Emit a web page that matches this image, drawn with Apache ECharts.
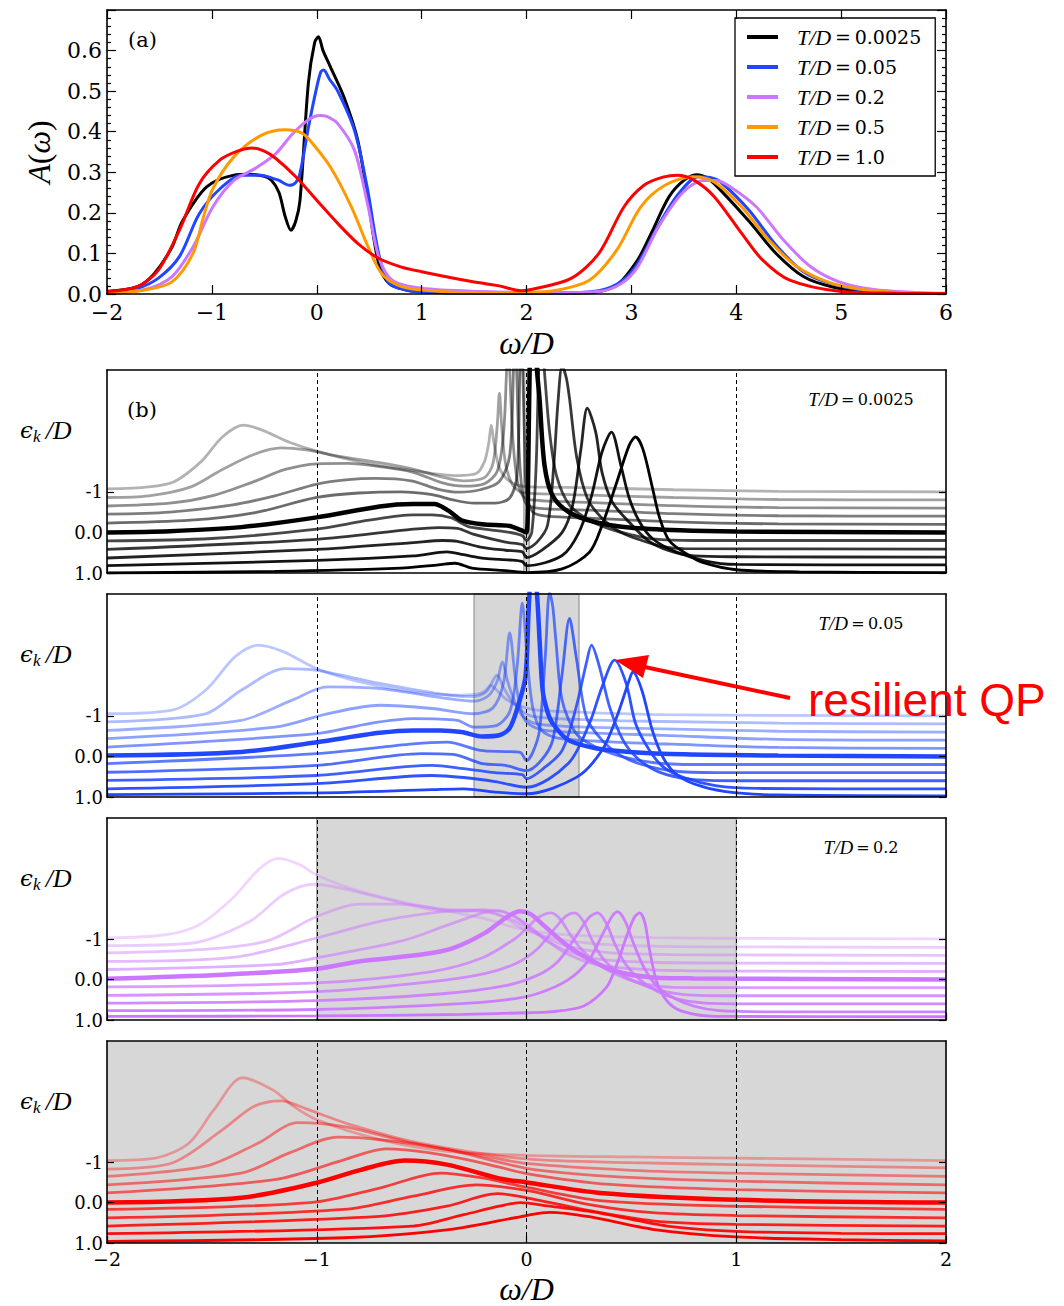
<!DOCTYPE html>
<html><head><meta charset="utf-8">
<script src="https://cdn.jsdelivr.net/npm/echarts@6/dist/echarts.min.js"></script>
<style>html,body{margin:0;padding:0;background:#fff}#c{width:1064px;height:1306px}</style>
</head><body><div id="c"></div>
<script>
// ---------------- DATA ----------------
// panel (a): A(omega) for several temperatures, [omega/D, A]
const TEMPS = ['0.0025', '0.05', '0.2', '0.5', '1.0'];
const A_T0025 = [[-2,0.006],[-1.71,0.018],[-1.55,0.05],[-1.38,0.116],[-1.28,0.18],[-1.05,0.264],[-0.79,0.293],[-0.66,0.295],[-0.5,0.29],[-0.43,0.28],[-0.36,0.25],[-0.3,0.19],[-0.246,0.157],[-0.2,0.18],[-0.16,0.23],[-0.08,0.52],[-0.02,0.62],[0.016,0.634],[0.06,0.6],[0.13,0.56],[0.26,0.485],[0.39,0.38],[0.49,0.23],[0.59,0.075],[0.69,0.026],[0.85,0.01],[1.0,0.006],[1.5,0.003],[2.0,0.002],[2.6,0.003],[2.86,0.022],[3.06,0.084],[3.19,0.15],[3.36,0.24],[3.5,0.28],[3.62,0.294],[3.73,0.285],[3.85,0.256],[4.12,0.18],[4.38,0.1],[4.64,0.043],[4.91,0.018],[5.24,0.006],[5.6,0.002],[6,0.001]];
const A_T005 = [[-2,0.003],[-1.71,0.014],[-1.51,0.039],[-1.31,0.092],[-1.12,0.198],[-0.92,0.26],[-0.72,0.293],[-0.53,0.293],[-0.42,0.285],[-0.36,0.28],[-0.26,0.268],[-0.2,0.275],[-0.16,0.297],[-0.08,0.41],[0,0.51],[0.04,0.548],[0.066,0.552],[0.12,0.53],[0.2,0.5],[0.36,0.403],[0.48,0.264],[0.59,0.1],[0.69,0.026],[0.85,0.01],[1,0.005],[1.5,0.002],[2.3,0.002],[2.69,0.008],[2.9,0.03],[3.06,0.075],[3.26,0.17],[3.45,0.247],[3.64,0.289],[3.75,0.287],[3.85,0.276],[4.12,0.207],[4.38,0.12],[4.64,0.055],[4.91,0.025],[5.2,0.01],[5.6,0.003],[6,0.001]];
const A_T02 = [[-2,0.002],[-1.64,0.011],[-1.38,0.043],[-1.18,0.116],[-0.99,0.215],[-0.79,0.28],[-0.59,0.309],[-0.39,0.346],[-0.23,0.395],[-0.066,0.432],[0.033,0.44],[0.1,0.437],[0.2,0.42],[0.36,0.354],[0.49,0.215],[0.59,0.092],[0.72,0.034],[1,0.014],[1.58,0.006],[2.2,0.003],[2.69,0.006],[2.9,0.025],[3.06,0.067],[3.26,0.166],[3.49,0.25],[3.69,0.28],[3.8,0.28],[3.92,0.268],[4.19,0.215],[4.45,0.133],[4.71,0.067],[4.98,0.03],[5.31,0.011],[5.7,0.004],[6,0.002]];
const A_T05 = [[-2,0.002],[-1.64,0.01],[-1.38,0.03],[-1.18,0.1],[-1.08,0.19],[-0.99,0.26],[-0.79,0.338],[-0.53,0.391],[-0.3,0.405],[-0.15,0.398],[-0.066,0.379],[0.13,0.313],[0.33,0.215],[0.49,0.116],[0.62,0.05],[0.79,0.02],[1,0.01],[1.58,0.003],[2.0,0.004],[2.26,0.008],[2.6,0.034],[2.86,0.108],[3.09,0.215],[3.32,0.268],[3.59,0.289],[3.79,0.276],[4.05,0.215],[4.31,0.133],[4.58,0.067],[4.91,0.026],[5.24,0.01],[5.6,0.003],[6,0.001]];
const A_T1 = [[-2,0.006],[-1.71,0.018],[-1.51,0.059],[-1.31,0.157],[-1.12,0.272],[-0.92,0.331],[-0.75,0.353],[-0.62,0.36],[-0.5,0.352],[-0.39,0.334],[-0.2,0.289],[0,0.231],[0.2,0.174],[0.39,0.125],[0.59,0.088],[0.8,0.067],[1,0.055],[1.41,0.034],[1.74,0.02],[1.95,0.008],[2.1,0.014],[2.43,0.039],[2.69,0.1],[2.93,0.215],[3.12,0.268],[3.3,0.288],[3.44,0.293],[3.6,0.28],[3.79,0.24],[4.05,0.15],[4.25,0.084],[4.51,0.034],[5.0,0.006],[5.5,0.002],[6,0.001]];

// panel (b): waterfall curves for eps_k/D = -1 ... 1 ; each point [omega/D, plotted value]
const EPS = [-1, -0.8, -0.6, -0.4, -0.2, 0, 0.2, 0.4, 0.6, 0.8, 1];
const B_TEMPS = ['0.0025', '0.05', '0.2', '1.0'];
const B_SHADE_HALF = [0.0125, 0.25, 1.0, 2.0];
const B_YTICK_VALUES = [-1, 0, 1];
const B_YTICK_LABELS = ['1.0', '0.0', '-1'];
const B_VLINES = [-1, 0, 1];

const B_T0025 = [
 [[-2,1.07],[-1.8,1.12],[-1.68,1.25],[-1.55,1.75],[-1.45,2.35],[-1.35,2.64],[-1.26,2.52],[-1.13,2.22],[-1.0,2.0],[-0.79,1.73],[-0.54,1.52],[-0.33,1.40],[-0.24,1.45],[-0.2,1.75],[-0.18,2.2],[-0.168,2.64],[-0.155,2.2],[-0.13,1.6],[-0.09,1.3],[-0.04,1.16],[0.02,1.12],[0.3,1.1],[0.7,1.05],[1.2,1.01],[2,1.0]],
 [[-2,0.86],[-1.8,0.9],[-1.6,1.12],[-1.45,1.55],[-1.3,1.92],[-1.17,2.08],[-1.05,2.03],[-0.9,1.88],[-0.7,1.72],[-0.54,1.56],[-0.4,1.36],[-0.3,1.27],[-0.2,1.35],[-0.16,1.7],[-0.14,2.6],[-0.129,3.43],[-0.118,2.6],[-0.1,1.7],[-0.07,1.2],[-0.03,1.0],[0.02,0.96],[0.3,0.92],[0.7,0.86],[1.2,0.81],[2,0.8]],
 [[-2,0.65],[-1.7,0.72],[-1.5,0.9],[-1.3,1.25],[-1.15,1.55],[-1.0,1.69],[-0.85,1.7],[-0.7,1.62],[-0.54,1.48],[-0.4,1.22],[-0.3,1.14],[-0.2,1.2],[-0.14,1.5],[-0.11,2.4],[-0.095,4.0],[-0.088,5],[-0.08,4.0],[-0.065,2.3],[-0.045,1.3],[-0.02,0.92],[0.02,0.8],[0.3,0.74],[0.7,0.66],[1.2,0.61],[2,0.6]],
 [[-2,0.45],[-1.7,0.5],[-1.4,0.68],[-1.2,0.9],[-1.0,1.19],[-0.85,1.3],[-0.72,1.33],[-0.55,1.27],[-0.42,1.06],[-0.32,0.99],[-0.22,1.05],[-0.13,1.25],[-0.08,1.9],[-0.062,4.0],[-0.055,5],[-0.047,4.0],[-0.035,2.0],[-0.02,1.0],[0.0,0.7],[0.05,0.6],[0.3,0.55],[0.7,0.46],[1.2,0.41],[2,0.4]],
 [[-2,0.23],[-1.6,0.3],[-1.3,0.48],[-1.0,0.86],[-0.8,0.97],[-0.6,1.0],[-0.45,0.93],[-0.35,0.8],[-0.25,0.72],[-0.15,0.72],[-0.08,0.85],[-0.045,1.4],[-0.032,4.0],[-0.025,5],[-0.018,4.0],[-0.008,2.0],[0.0,1.0],[0.03,0.5],[0.1,0.4],[0.3,0.35],[0.7,0.26],[1.2,0.21],[2,0.2]],
 [[-2,0],[-1.7,0.03],[-1.36,0.13],[-1.0,0.37],[-0.7,0.64],[-0.54,0.7],[-0.44,0.70],[-0.37,0.53],[-0.31,0.3],[-0.21,0.2],[-0.08,0.16],[-0.03,0.06],[0.0,0.0],[0.008,1.5],[0.015,4.0],[0.025,5.5],[0.04,5.0],[0.05,4.0],[0.062,3.3],[0.086,1.65],[0.124,0.91],[0.205,0.49],[0.33,0.25],[0.49,0.12],[0.73,0.05],[1,0.02],[2,0]],
 [[-2,-0.21],[-1.5,-0.15],[-1,0.08],[-0.75,0.3],[-0.54,0.43],[-0.45,0.43],[-0.36,0.36],[-0.28,0.15],[-0.18,0.07],[-0.08,0.0],[-0.02,-0.08],[0.0,-0.2],[0.025,0.0],[0.046,1.65],[0.058,4.0],[0.07,5.0],[0.085,4.0],[0.11,2.47],[0.143,1.4],[0.205,0.67],[0.3,0.3],[0.4,0.08],[0.5,-0.06],[0.6,-0.16],[0.8,-0.2],[2,-0.2]],
 [[-2,-0.42],[-1,-0.17],[-0.54,0.08],[-0.42,0.12],[-0.33,0.1],[-0.25,-0.05],[-0.1,-0.24],[-0.02,-0.3],[0,-0.4],[0.05,-0.24],[0.1,0.17],[0.13,1.65],[0.15,3.2],[0.17,4.1],[0.19,3.8],[0.205,3.3],[0.24,1.83],[0.29,0.84],[0.36,0.35],[0.45,0.0],[0.55,-0.2],[0.65,-0.35],[0.75,-0.4],[2,-0.41]],
 [[-2,-0.63],[-1,-0.42],[-0.54,-0.25],[-0.4,-0.2],[-0.33,-0.22],[-0.22,-0.36],[-0.1,-0.44],[-0.02,-0.48],[0,-0.62],[0.07,-0.45],[0.17,0],[0.22,0.67],[0.26,2.07],[0.29,3.06],[0.33,2.47],[0.36,1.48],[0.41,0.74],[0.49,0.25],[0.58,-0.2],[0.68,-0.45],[0.8,-0.58],[1,-0.6],[2,-0.61]],
 [[-2,-0.82],[-1,-0.69],[-0.54,-0.58],[-0.38,-0.48],[-0.3,-0.55],[-0.2,-0.64],[-0.08,-0.68],[-0.02,-0.72],[0,-0.82],[0.17,-0.57],[0.25,0],[0.31,0.9],[0.36,1.98],[0.405,2.47],[0.45,1.65],[0.49,0.84],[0.54,0.25],[0.6,-0.15],[0.7,-0.45],[0.85,-0.7],[1.0,-0.79],[2,-0.8]],
 [[-2,-1.0],[-1.2,-0.96],[-0.6,-0.88],[-0.42,-0.8],[-0.34,-0.76],[-0.26,-0.88],[-0.1,-0.94],[0,-0.99],[0.17,-0.9],[0.3,-0.49],[0.36,0.17],[0.43,1.23],[0.49,2.15],[0.52,2.35],[0.555,2.05],[0.6,1.11],[0.634,0.37],[0.68,-0.2],[0.76,-0.52],[0.84,-0.74],[1.0,-0.92],[1.3,-0.97],[2,-0.99]]
];
const B_T005 = [
 [[-2,1.05],[-1.69,1.14],[-1.53,1.63],[-1.39,2.45],[-1.28,2.74],[-1.16,2.58],[-1.0,2.16],[-0.79,1.83],[-0.54,1.59],[-0.33,1.51],[-0.24,1.53],[-0.2,1.6],[-0.17,1.75],[-0.14,1.62],[-0.1,1.42],[-0.04,1.25],[0.05,1.14],[0.3,1.08],[0.65,1.03],[1.2,1.01],[2,1.0]],
 [[-2,0.85],[-1.53,1.05],[-1.36,1.63],[-1.15,2.16],[-1.0,2.12],[-0.7,1.8],[-0.37,1.51],[-0.25,1.47],[-0.19,1.6],[-0.14,2.0],[-0.11,1.7],[-0.06,1.3],[0.02,1.0],[0.3,0.9],[0.65,0.86],[1.2,0.82],[2,0.8]],
 [[-2,0.64],[-1.36,0.89],[-1.12,1.38],[-0.95,1.71],[-0.7,1.67],[-0.37,1.42],[-0.25,1.36],[-0.18,1.5],[-0.14,1.85],[-0.115,2.33],[-0.09,1.85],[-0.06,1.4],[-0.02,1.0],[0.05,0.8],[0.3,0.72],[0.65,0.68],[1.2,0.62],[2,0.6]],
 [[-2,0.44],[-1.2,0.72],[-0.95,1.05],[-0.7,1.26],[-0.45,1.18],[-0.25,1.05],[-0.16,1.2],[-0.11,1.8],[-0.08,3.04],[-0.055,2.0],[-0.03,1.2],[0.0,0.85],[0.08,0.65],[0.3,0.58],[0.65,0.52],[1.2,0.42],[2,0.4]],
 [[-2,0.23],[-1.0,0.56],[-0.75,0.81],[-0.54,0.93],[-0.33,0.89],[-0.25,0.72],[-0.15,0.75],[-0.08,1.1],[-0.045,2.2],[-0.02,3.78],[0.005,2.3],[0.03,1.2],[0.07,0.65],[0.15,0.45],[0.4,0.36],[0.7,0.3],[1.2,0.22],[2,0.2]],
 [[-2,0.02],[-1.36,0.11],[-1.0,0.35],[-0.7,0.58],[-0.54,0.64],[-0.41,0.64],[-0.31,0.6],[-0.21,0.49],[-0.13,0.52],[-0.08,0.7],[-0.04,1.25],[-0.005,1.96],[0.012,3.8],[0.03,5.0],[0.05,4.0],[0.063,2.8],[0.077,1.63],[0.1,1.1],[0.125,0.81],[0.2,0.4],[0.33,0.2],[0.49,0.11],[0.75,0.05],[1.2,0.02],[2,0]],
 [[-2,-0.18],[-1,0.07],[-0.54,0.31],[-0.38,0.35],[-0.22,0.15],[-0.1,0.12],[-0.03,0.1],[0,-0.1],[0.03,0.1],[0.062,0.64],[0.09,2.5],[0.11,4.05],[0.125,3.7],[0.14,2.86],[0.17,1.38],[0.237,0.56],[0.33,0.23],[0.45,0.0],[0.6,-0.15],[0.8,-0.2],[2,-0.2]],
 [[-2,-0.39],[-1,-0.22],[-0.5,0.07],[-0.35,0.05],[-0.21,-0.18],[-0.1,-0.22],[0,-0.35],[0.07,-0.1],[0.125,0.4],[0.17,2.04],[0.205,3.4],[0.237,2.45],[0.285,0.97],[0.36,0.4],[0.45,0.02],[0.55,-0.2],[0.7,-0.36],[0.9,-0.4],[2,-0.4]],
 [[-2,-0.59],[-1,-0.47],[-0.45,-0.22],[-0.3,-0.3],[-0.15,-0.4],[-0.02,-0.45],[0,-0.55],[0.08,-0.3],[0.17,0.15],[0.237,1.22],[0.285,2.29],[0.31,2.74],[0.348,2.2],[0.396,1.22],[0.46,0.4],[0.53,-0.05],[0.63,-0.38],[0.78,-0.56],[1,-0.6],[2,-0.6]],
 [[-2,-0.8],[-1,-0.67],[-0.45,-0.47],[-0.3,-0.52],[-0.15,-0.62],[0,-0.76],[0.2,-0.17],[0.3,0.81],[0.36,1.71],[0.42,2.37],[0.475,1.8],[0.52,0.81],[0.586,0.15],[0.65,-0.25],[0.75,-0.52],[0.9,-0.72],[1.1,-0.79],[2,-0.8]],
 [[-2,-0.94],[-1,-0.9],[-0.45,-0.82],[-0.3,-0.8],[-0.15,-0.88],[0,-0.92],[0.24,-0.51],[0.36,0.15],[0.43,0.97],[0.49,1.88],[0.507,2.08],[0.55,1.63],[0.6,0.64],[0.65,-0.02],[0.71,-0.42],[0.8,-0.68],[0.95,-0.87],[1.2,-0.95],[2,-0.97]]
];
const B_T02 = [
 [[-2,1.03],[-1.72,1.11],[-1.56,1.36],[-1.40,2.02],[-1.27,2.76],[-1.18,3.0],[-1.08,2.84],[-1.0,2.59],[-0.84,2.26],[-0.6,1.93],[-0.37,1.69],[-0.21,1.52],[-0.05,1.28],[0.1,1.15],[0.3,1.08],[0.6,1.04],[1,1.02],[2,1.01]],
 [[-2,0.84],[-1.6,0.9],[-1.32,1.44],[-1.16,2.1],[-1.02,2.36],[-0.92,2.3],[-0.69,2.02],[-0.45,1.73],[-0.29,1.69],[-0.21,1.73],[-0.13,1.6],[-0.05,1.36],[0.01,1.19],[0.15,1.0],[0.35,0.88],[0.6,0.83],[1,0.81],[2,0.8]],
 [[-2,0.66],[-1.56,0.74],[-1.24,0.95],[-1.0,1.56],[-0.8,1.87],[-0.6,1.87],[-0.37,1.73],[-0.2,1.72],[-0.12,1.7],[-0.04,1.5],[0.05,1.15],[0.2,0.82],[0.4,0.66],[0.7,0.62],[1,0.61],[2,0.6]],
 [[-2,0.45],[-1.4,0.55],[-1.0,1.03],[-0.7,1.44],[-0.45,1.65],[-0.3,1.71],[-0.2,1.68],[-0.1,1.55],[0,1.3],[0.1,0.95],[0.2,0.7],[0.35,0.5],[0.6,0.43],[1,0.41],[2,0.4]],
 [[-2,0.25],[-1.2,0.37],[-1.0,0.54],[-0.6,0.95],[-0.37,1.36],[-0.21,1.65],[-0.15,1.7],[-0.07,1.6],[0.02,1.3],[0.1,0.95],[0.2,0.62],[0.35,0.35],[0.6,0.24],[1,0.21],[2,0.2]],
 [[-2,0.02],[-1.45,0.12],[-1.0,0.27],[-0.8,0.45],[-0.5,0.62],[-0.35,0.78],[-0.2,1.15],[-0.09,1.56],[-0.03,1.69],[0.02,1.62],[0.08,1.35],[0.19,0.86],[0.3,0.5],[0.43,0.2],[0.59,0.06],[0.8,0.03],[2,0]],
 [[-2,-0.18],[-1,-0.08],[-0.45,0.2],[-0.21,0.54],[-0.05,1.03],[0.01,1.32],[0.06,1.55],[0.118,1.65],[0.16,1.5],[0.21,1.1],[0.27,0.7],[0.35,0.35],[0.45,0.08],[0.55,-0.1],[0.7,-0.19],[1,-0.2],[2,-0.2]],
 [[-2,-0.39],[-1,-0.3],[-0.45,-0.05],[-0.2,0.15],[-0.05,0.4],[0.05,0.75],[0.14,1.3],[0.19,1.58],[0.229,1.65],[0.27,1.45],[0.31,1.0],[0.36,0.55],[0.43,0.2],[0.52,-0.05],[0.62,-0.25],[0.75,-0.37],[1,-0.4],[2,-0.4]],
 [[-2,-0.58],[-1,-0.52],[-0.4,-0.35],[-0.1,-0.15],[0.05,0.1],[0.15,0.45],[0.24,1.1],[0.3,1.55],[0.34,1.65],[0.38,1.4],[0.42,0.9],[0.47,0.4],[0.54,0.0],[0.62,-0.28],[0.72,-0.48],[0.85,-0.58],[1.1,-0.6],[2,-0.6]],
 [[-2,-0.77],[-1,-0.74],[-0.4,-0.62],[-0.1,-0.5],[0.05,-0.35],[0.2,0.0],[0.3,0.5],[0.37,1.2],[0.41,1.58],[0.435,1.68],[0.47,1.45],[0.51,0.9],[0.56,0.3],[0.62,-0.15],[0.7,-0.45],[0.8,-0.66],[0.92,-0.77],[1.2,-0.8],[2,-0.8]],
 [[-2,-0.91],[-1,-0.9],[-0.3,-0.86],[0,-0.82],[0.11,-0.8],[0.27,-0.66],[0.38,-0.2],[0.43,0.37],[0.48,1.11],[0.515,1.55],[0.54,1.65],[0.565,1.4],[0.585,0.78],[0.62,-0.04],[0.67,-0.53],[0.74,-0.78],[0.9,-0.91],[2,-0.92]]
];
const B_T1 = [
 [[-2,1.04],[-1.77,1.1],[-1.61,1.47],[-1.49,2.3],[-1.354,3.09],[-1.21,2.79],[-1.11,2.38],[-1.0,2.05],[-0.7,1.56],[-0.375,1.27],[0,1.17],[0.5,1.13],[1,1.1],[2,1.04]],
 [[-2,0.83],[-1.69,0.98],[-1.45,1.8],[-1.3,2.38],[-1.17,2.52],[-1.04,2.3],[-0.84,1.93],[-0.51,1.47],[0,1.08],[0.5,0.99],[1,0.94],[2,0.86]],
 [[-2,0.65],[-1.53,0.9],[-1.28,1.47],[-1.09,1.98],[-0.87,1.88],[-0.54,1.47],[-0.2,1.15],[0,0.97],[0.5,0.8],[1,0.73],[2,0.65]],
 [[-2,0.44],[-1.36,0.73],[-1.13,1.23],[-0.9,1.62],[-0.7,1.56],[-0.375,1.31],[0,0.85],[0.4,0.65],[1,0.53],[2,0.44]],
 [[-2,0.24],[-1.2,0.57],[-0.87,1.06],[-0.67,1.33],[-0.46,1.23],[-0.21,0.98],[0,0.72],[0.4,0.45],[1,0.32],[2,0.24]],
 [[-2,0.0],[-1.36,0.12],[-1.0,0.49],[-0.79,0.81],[-0.58,1.04],[-0.38,0.94],[-0.13,0.6],[0,0.5],[0.35,0.24],[1,0.07],[2,0.0]],
 [[-2,-0.17],[-1.03,0.0],[-0.7,0.36],[-0.41,0.73],[-0.21,0.61],[0,0.38],[0.35,0.05],[1,-0.09],[2,-0.17]],
 [[-2,-0.38],[-0.87,-0.17],[-0.54,0.16],[-0.24,0.44],[0,0.3],[0.3,-0.05],[0.6,-0.25],[1,-0.32],[2,-0.38]],
 [[-2,-0.58],[-0.7,-0.34],[-0.38,-0.09],[-0.14,0.22],[0,0.12],[0.3,-0.2],[0.6,-0.45],[1,-0.54],[2,-0.58]],
 [[-2,-0.77],[-0.54,-0.58],[-0.3,-0.3],[-0.13,-0.09],[-0.03,0.0],[0.1,-0.08],[0.35,-0.26],[0.67,-0.58],[1,-0.71],[1.5,-0.76],[2,-0.77]],
 [[-2,-0.96],[-0.87,-0.87],[-0.37,-0.67],[0,-0.32],[0.11,-0.24],[0.3,-0.35],[0.6,-0.66],[1,-0.85],[1.5,-0.92],[2,-0.95]]
];

// ---------------- STYLE ----------------
const A_DATA = [A_T0025, A_T005, A_T02, A_T05, A_T1];
const COLORS = ['#000000', '#2046ff', '#cc77ff', '#ff9900', '#ff0000'];
const B_DATA = [B_T0025, B_T005, B_T02, B_T1];
const B_COLORS = ['#000000', '#2046ff', '#cc77ff', '#ff0000'];
const ALPHA = [0.3, 0.37, 0.44, 0.51, 0.58, 1, 0.72, 0.79, 0.86, 0.93, 1];
const SERIF = 'DejaVu Serif';
const MATH = 'Liberation Serif';
const fmtMinus = v => (v < 0 ? '\u2212' + Math.abs(v) : String(v));

const grids = [
  {left: 107, top: 10, width: 839, height: 284},
  {left: 107, top: 370, width: 839, height: 203},
  {left: 107, top: 594, width: 839, height: 203},
  {left: 107, top: 818, width: 839, height: 202},
  {left: 107, top: 1041, width: 839, height: 203}
];
const axLine = {show: true, onZero: false, lineStyle: {color: '#000', width: 1.6}};
const tickSt = {color: '#000', width: 1.2};

const xAxes = [], yAxes = [], series = [];
// panel (a) axes
xAxes.push({gridIndex: 0, type: 'value', min: -2, max: 6, interval: 1, position: 'bottom', z: 10,
  axisLine: axLine, axisTick: {inside: true, length: 9, lineStyle: tickSt}, splitLine: {show: false},
  axisLabel: {formatter: fmtMinus, fontFamily: SERIF, fontSize: 22, lineHeight: 18, color: '#000', margin: 9},
  name: 'ω/D', nameLocation: 'middle', nameGap: 33,
  nameTextStyle: {fontFamily: MATH, fontStyle: 'italic', fontSize: 32, color: '#000'}});
xAxes.push({gridIndex: 0, type: 'value', min: -2, max: 6, interval: 1, position: 'top', z: 10,
  axisLine: axLine, axisTick: {inside: true, length: 9, lineStyle: tickSt}, splitLine: {show: false},
  axisLabel: {show: false}});
yAxes.push({gridIndex: 0, type: 'value', min: 0, max: 0.7, interval: 0.1, position: 'left', z: 10,
  axisLine: axLine, axisTick: {inside: true, length: 9, lineStyle: tickSt},
  minorTick: {show: true, splitNumber: 5, length: 4, lineStyle: tickSt}, splitLine: {show: false}, minorSplitLine: {show: false},
  axisLabel: {formatter: v => (v > 0.65 ? '' : v.toFixed(1)), fontFamily: SERIF, fontSize: 22, lineHeight: 17, color: '#000', margin: 5},
  name: '{i|A}{n|(}{i|ω}{n|)}', nameLocation: 'middle', nameRotate: 90, nameGap: 52,
  nameTextStyle: {rich: {i: {fontFamily: MATH, fontStyle: 'italic', fontSize: 32, color: '#000'}, n: {fontFamily: MATH, fontSize: 32, color: '#000'}}}});
yAxes.push({gridIndex: 0, type: 'value', min: 0, max: 0.7, interval: 0.1, position: 'right', z: 10,
  axisLine: axLine, axisTick: {inside: true, length: 9, lineStyle: tickSt},
  minorTick: {show: true, splitNumber: 5, length: 4, lineStyle: tickSt}, splitLine: {show: false},
  axisLabel: {show: false}});

// panel (b) axes
for (let p = 0; p < 4; p++) {
  const g = p + 1;
  const last = p === 3;
  xAxes.push({gridIndex: g, type: 'value', min: -2, max: 2, interval: 1, position: 'bottom', z: 10,
    axisLine: axLine, axisTick: {inside: true, length: 7, lineStyle: tickSt}, splitLine: {show: false},
    axisLabel: {show: last, formatter: fmtMinus, fontFamily: SERIF, fontSize: 19, lineHeight: 15, color: '#000', margin: 8},
    name: last ? 'ω/D' : '', nameLocation: 'middle', nameGap: 30,
    nameTextStyle: {fontFamily: MATH, fontStyle: 'italic', fontSize: 32, color: '#000'}});
}
for (let p = 0; p < 4; p++) {
  xAxes.push({gridIndex: p + 1, type: 'value', min: -2, max: 2, interval: 1, position: 'top', z: 10,
    axisLine: axLine, axisTick: {show: false}, splitLine: {show: false}, axisLabel: {show: false}});
}
for (let p = 0; p < 4; p++) {
  yAxes.push({gridIndex: p + 1, type: 'value', min: -1, max: 4, interval: 1, position: 'left', z: 10,
    axisLine: axLine, axisTick: {inside: true, length: 7, lineStyle: tickSt, customValues: B_YTICK_VALUES},
    splitLine: {show: false},
    axisLabel: {customValues: B_YTICK_VALUES, formatter: v => { const k = B_YTICK_VALUES.indexOf(Math.round(v)); return k >= 0 ? B_YTICK_LABELS[k] : ''; },
      fontFamily: SERIF, fontSize: 18, lineHeight: 14, color: '#000', margin: 4}});
}
for (let p = 0; p < 4; p++) {
  yAxes.push({gridIndex: p + 1, type: 'value', min: -1, max: 4, interval: 1, position: 'right', z: 10,
    axisLine: axLine, axisTick: {inside: true, length: 7, lineStyle: tickSt, customValues: B_YTICK_VALUES},
    splitLine: {show: false}, axisLabel: {show: false}});
}

// panel (a) series
A_DATA.forEach((d, k) => {
  series.push({type: 'line', name: TEMPS[k], xAxisIndex: 0, yAxisIndex: 0, data: d, smooth: 0.3,
    showSymbol: false, symbol: 'none', z: 3, lineStyle: {color: COLORS[k], width: 3}, itemStyle: {color: COLORS[k]}});
});

// panel (b) series
for (let p = 0; p < 4; p++) {
  const xi = 2 + p, yi = 2 + p;
  const h = B_SHADE_HALF[p];
  series.push({type: 'line', name: 'shade' + p, xAxisIndex: xi, yAxisIndex: yi, data: [[-3, -5]], showSymbol: false, silent: true, z: 1,
    markArea: {silent: true, itemStyle: {color: '#d7d7d7', borderColor: p === 3 ? '#d7d7d7' : '#a6a6a6', borderWidth: p === 3 ? 0 : 1.5},
      data: [[{xAxis: -h}, {xAxis: h}]]}});
  series.push({type: 'line', name: 'vline' + p, xAxisIndex: xi, yAxisIndex: yi, data: [[-3, -5]], showSymbol: false, silent: true, z: 2,
    markLine: {silent: true, symbol: 'none', label: {show: false},
      lineStyle: {color: '#000', type: [4, 3], width: 1},
      data: B_VLINES.map(v => ({xAxis: v}))}});
  B_DATA[p].forEach((d, i) => {
    const thick = EPS[i] === 0;
    series.push({type: 'line', name: 'b' + p + '_' + i, xAxisIndex: xi, yAxisIndex: yi, data: d, smooth: 0.3,
      showSymbol: false, symbol: 'none', z: 3, silent: true,
      lineStyle: {color: B_COLORS[p], width: thick ? 4.5 : 2.8, opacity: ALPHA[i]}});
  });
}

const tdRich = {i: {fontFamily: MATH, fontStyle: 'italic', fontSize: 19, color: '#000'}, n: {fontFamily: SERIF, fontSize: 16, color: '#000'}};
const graphics = [];
graphics.push({type: 'text', x: 128, y: 40, style: {text: '(a)', font: '21px "DejaVu Serif"', fill: '#000', align: 'left', verticalAlign: 'middle'}});
graphics.push({type: 'text', x: 127, y: 410, style: {text: '(b)', font: '21px "DejaVu Serif"', fill: '#000', align: 'left', verticalAlign: 'middle'}});
const tdY = [399, 623, 847, 1070];
const epsY = [430, 654, 878, 1101];
for (let p = 0; p < 4; p++) {
  graphics.push({type: 'text', x: 861, y: tdY[p], style: {text: '{i|T/D}{n|\u2009=\u2009' + B_TEMPS[p] + '}', rich: tdRich, align: 'center', verticalAlign: 'middle'}});
  graphics.push({type: 'text', x: 20, y: epsY[p], style: {text: '{e|\u03f5}{k|k}{d|\u2009/D}', align: 'left', verticalAlign: 'middle',
    rich: {e: {fontFamily: SERIF, fontStyle: 'italic', fontSize: 23, color: '#000', lineHeight: 30},
           d: {fontFamily: MATH, fontStyle: 'italic', fontSize: 26, color: '#000', lineHeight: 30},
           k: {fontFamily: MATH, fontStyle: 'italic', fontSize: 17, color: '#000', lineHeight: 30, verticalAlign: 'bottom', padding: [10, 0, 0, 0]}}}});
}
graphics.push({type: 'polyline', shape: {points: [[790, 698], [640, 666]]}, style: {stroke: '#ff0000', lineWidth: 4}, z: 100});
graphics.push({type: 'polygon', shape: {points: [[615, 660], [649, 655], [643, 678]]}, style: {fill: '#ff0000'}, z: 100});
graphics.push({type: 'text', x: 808, y: 700, z: 100, style: {text: 'resilient QP', font: '46px "Liberation Sans"', fill: '#ff0000', align: 'left', verticalAlign: 'middle'}});

const option = {
  animation: false,
  backgroundColor: '#ffffff',
  grid: grids,
  xAxis: xAxes,
  yAxis: yAxes,
  legend: {
    data: TEMPS, orient: 'vertical', left: 735, top: 18,
    backgroundColor: '#fff', borderColor: '#000', borderWidth: 1.3, borderRadius: 0,
    padding: [8, 14, 8, 12], itemGap: 8, itemWidth: 31, itemHeight: 4, icon: 'rect',
    selectedMode: false,
    formatter: n => '{s|}{i|T/D}{n|\u2009=\u2009' + n + '}',
    textStyle: {rich: {s: {width: 14}, i: {fontFamily: MATH, fontStyle: 'italic', fontSize: 22, color: '#000', lineHeight: 20}, n: {fontFamily: SERIF, fontSize: 19, color: '#000', lineHeight: 20}}}
  },
  graphic: graphics,
  series: series
};
const chart = echarts.init(document.getElementById('c'), null, {renderer: 'svg'});
chart.setOption(option);
</script></body></html>
